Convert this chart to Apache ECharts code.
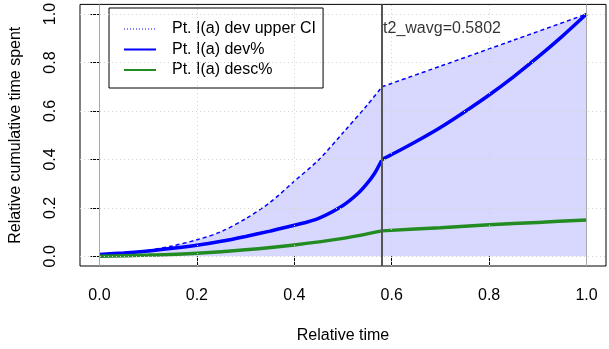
<!DOCTYPE html>
<html>
<head>
<meta charset="utf-8">
<script src="https://cdn.jsdelivr.net/npm/echarts@6/dist/echarts.min.js"></script>
<style>
html,body{margin:0;padding:0;background:#fff;}
#chart{width:609px;height:349px;}
</style>
</head>
<body>
<div id="chart"></div>
<script>
// ---- data ----
const ticks = [0, 0.2, 0.4, 0.6, 0.8, 1.0];
const t2Wavg = 0.5802;
const seriesNames = ['Pt. I(a) dev upper CI', 'Pt. I(a) dev%', 'Pt. I(a) desc%'];

// before / after the t2_wavg break point
const ciX1 = [0, 0.05, 0.1, 0.15, 0.2, 0.25, 0.3, 0.35, 0.4, 0.45, 0.5, 0.55, 0.5802];
const ciY1 = [0.005, 0.012, 0.025, 0.043, 0.068, 0.102, 0.155, 0.222, 0.31, 0.398, 0.51, 0.625, 0.70];
const ciX2 = [0.5802, 0.7, 0.85, 1.0];
const ciY2 = [0.70, 0.785, 0.892, 1.0];

const devX1 = [0, 0.05, 0.1, 0.15, 0.2, 0.25, 0.3, 0.35, 0.4, 0.45, 0.5, 0.53, 0.55, 0.565, 0.5802];
const devY1 = [0.008, 0.014, 0.022, 0.033, 0.046, 0.062, 0.082, 0.104, 0.128, 0.157, 0.21, 0.258, 0.302, 0.343, 0.40];
const devX2 = [0.5802, 0.6, 0.65, 0.7, 0.75, 0.8, 0.85, 0.9, 0.95, 1.0];
const devY2 = [0.40, 0.42, 0.474, 0.532, 0.597, 0.666, 0.741, 0.822, 0.908, 1.0];

const descX1 = [0, 0.1, 0.2, 0.3, 0.4, 0.5, 0.5802];
const descY1 = [0, 0.005, 0.013, 0.027, 0.047, 0.074, 0.105];
const descX2 = [0.5802, 0.7, 0.8, 0.9, 1.0];
const descY2 = [0.105, 0.118, 0.13, 0.14, 0.15];

const zip = (xs, ys) => xs.map((x, i) => [x, ys[i]]);
const FONT = '"Liberation Sans", Arial, Helvetica, sans-serif';
const fmt = v => v.toFixed(1);
const BLUE = '#0000ff', GREEN = '#228b22';

const chart = echarts.init(document.getElementById('chart'), null, {renderer: 'canvas'});

const gridLineData = ticks.map(v => ({yAxis: v})).concat(ticks.map(v => ({xAxis: v})));

function ciSeries(xs, ys) {
  return {
    type: 'line', name: seriesNames[0], data: zip(xs, ys), symbol: 'none',
    smooth: 0.3,
    lineStyle: {color: BLUE, width: 1.5, type: [4, 3]},
    itemStyle: {color: BLUE},
    areaStyle: {color: 'rgba(0,0,255,0.22)', origin: 0},
    z: 2
  };
}
function lineSeries(name, color, xs, ys) {
  return {
    type: 'line', name: name, data: zip(xs, ys), symbol: 'none',
    smooth: 0.3,
    lineStyle: {color: color, width: 3.5}, itemStyle: {color: color}, z: 4
  };
}

chart.setOption({
  animation: false,
  textStyle: {fontFamily: FONT},
  grid: {left: 80, right: 3, top: 1, bottom: 82, show: true, borderColor: '#000', borderWidth: 1, backgroundColor: 'transparent'},
  xAxis: {
    type: 'value', min: -0.04, max: 1.04,
    axisLine: {show: false},
    axisTick: {show: true, length: 9, inside: false, customValues: ticks, lineStyle: {color: '#000'}},
    axisLabel: {customValues: ticks, formatter: fmt, fontSize: 16, color: '#000', margin: 22, fontFamily: FONT},
    splitLine: {show: false},
    name: 'Relative time', nameLocation: 'middle', nameGap: 62,
    nameTextStyle: {fontSize: 16, color: '#000', fontFamily: FONT}
  },
  yAxis: {
    type: 'value', min: -0.04, max: 1.04,
    axisLine: {show: false},
    axisTick: {show: true, length: 9, inside: false, customValues: ticks, lineStyle: {color: '#000'}},
    axisLabel: {customValues: ticks, formatter: fmt, fontSize: 16, color: '#000', margin: 21, rotate: 90, fontFamily: FONT},
    splitLine: {show: false},
    name: 'Relative cumulative time spent', nameLocation: 'middle', nameGap: 56,
    nameTextStyle: {fontSize: 16, color: '#000', fontFamily: FONT}
  },
  legend: {
    orient: 'vertical', left: 109, top: 8,
    backgroundColor: '#fff', borderColor: '#000', borderWidth: 1,
    padding: [13, 7, 10, 14],
    itemWidth: 32, itemHeight: 14, itemGap: 4.5,
    itemStyle: {color: 'rgba(0,0,0,0)', borderWidth: 0, opacity: 0},
    textStyle: {fontSize: 16, color: '#000', fontFamily: FONT, padding: [0, 0, 0, 11], lineHeight: 16},
    data: [
      {name: seriesNames[0], lineStyle: {type: [1, 2], width: 1, color: BLUE}},
      {name: seriesNames[1]},
      {name: seriesNames[2]}
    ]
  },
  series: [
    {
      type: 'line', name: '_grid', data: [], silent: true,
      markLine: {silent: true, symbol: 'none', label: {show: false},
        lineStyle: {color: '#d3d3d3', type: [1, 3], width: 1}, data: gridLineData}
    },
    ciSeries(ciX1, ciY1),
    ciSeries(ciX2, ciY2),
    {
      type: 'line', name: '_vlines', data: [], silent: true,
      markLine: {silent: true, symbol: 'none', label: {show: false},
        data: [
          {xAxis: 0, lineStyle: {color: '#a8a8a8', type: 'solid', width: 1}},
          {xAxis: 1, lineStyle: {color: '#a8a8a8', type: 'solid', width: 1}},
          {xAxis: t2Wavg, lineStyle: {color: '#555555', type: 'solid', width: 2}}
        ]},
      z: 3
    },
    lineSeries(seriesNames[1], BLUE, devX1, devY1),
    lineSeries(seriesNames[1], BLUE, devX2, devY2),
    lineSeries(seriesNames[2], GREEN, descX1, descY1),
    lineSeries(seriesNames[2], GREEN, descX2, descY2),
    {
      type: 'scatter', name: '_label', data: [[t2Wavg, 0.94]], symbolSize: 0, silent: true,
      label: {show: true, position: 'right', distance: 1, formatter: 't2_wavg=' + t2Wavg,
        fontSize: 16, color: '#000', fontFamily: FONT},
      z: 5
    }
  ]
});
</script>
</body>
</html>
